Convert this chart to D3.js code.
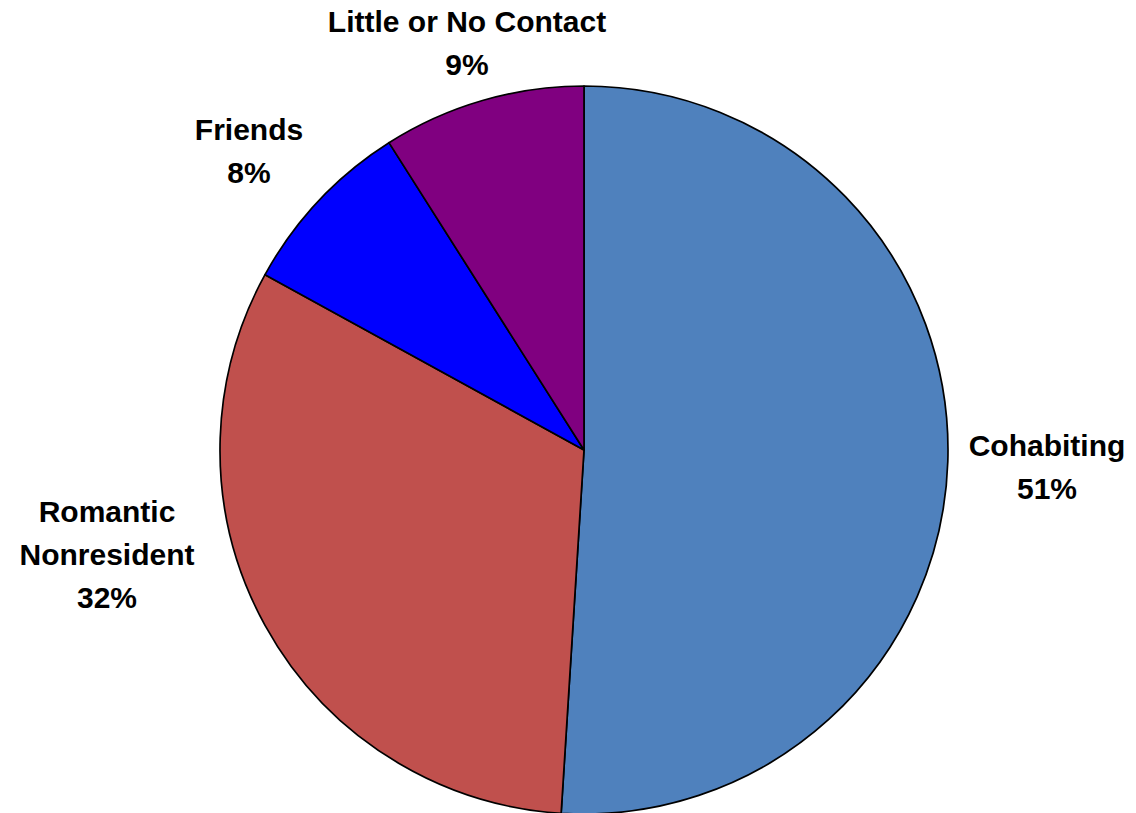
<!DOCTYPE html>
<html>
<head>
<meta charset="utf-8">
<script src="https://cdn.jsdelivr.net/npm/d3@7"></script>
<style>
  body { margin: 0; background: #fff; }
  text { font-family: "Liberation Sans", Arial, sans-serif; font-weight: bold; fill: #000; }
</style>
</head>
<body>
<div id="container"></div>
<script>
/* DATA */
const categories = ["Cohabiting", "Romantic Nonresident", "Friends", "Little or No Contact"];
const values = [51, 32, 8, 9];
const labelLines = [["Cohabiting"], ["Romantic", "Nonresident"], ["Friends"], ["Little or No Contact"]];

/* CONSTANTS AND GLOBALS */
const width = 1136, height = 813;
const cx = 584, cy = 450, radius = 364;
const colors = ["#4F81BD", "#C0504D", "#0000FF", "#800080"];
const fontSize = 30, lineH = 43;
// first-line baseline of each label, relative to the pie centre
const labelOffset = [[463, 6], [-477, 72], [-335, -310], [-117, -418]];

const svg = d3.select("#container").append("svg")
  .attr("width", width).attr("height", height);

const pie = d3.pie().sort(null).value(d => d)(values);
const arc = d3.arc().innerRadius(0).outerRadius(radius);

const g = svg.append("g").attr("transform", `translate(${cx},${cy})`);

g.selectAll("path").data(pie).join("path")
  .attr("d", arc)
  .attr("fill", (d, i) => colors[i])
  .attr("stroke", "#000")
  .attr("stroke-width", 1.7)
  .attr("stroke-linejoin", "round");

// LABELS
pie.forEach((d, i) => {
  const t = g.append("text")
    .attr("text-anchor", "middle")
    .attr("font-size", fontSize)
    .attr("x", labelOffset[i][0])
    .attr("y", labelOffset[i][1]);
  const lines = labelLines[i].concat([values[i] + "%"]);
  lines.forEach((s, j) => {
    t.append("tspan")
      .attr("x", labelOffset[i][0])
      .attr("dy", j === 0 ? 0 : lineH)
      .text(s);
  });
});
</script>
</body>
</html>
